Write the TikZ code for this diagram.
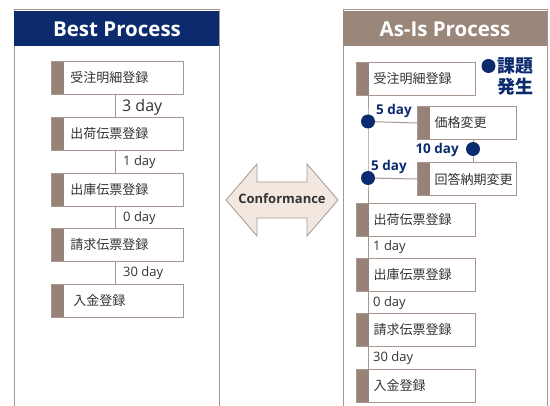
\documentclass[tikz,border=0pt]{standalone}
\usepackage{fontspec}
\setmainfont{Open Sans}
\newfontfamily\cjk{Noto Sans CJK JP}
\definecolor{navy}{HTML}{0C2A6E}
\definecolor{headbrown}{HTML}{9B867A}
\definecolor{barcol}{HTML}{978278}
\definecolor{edgecol}{HTML}{A8978E}
\definecolor{txtcol}{HTML}{333333}
\definecolor{arrowfill}{HTML}{F3E8E0}
\tikzset{
  panel/.style={draw=edgecol, line width=1pt},
  headtext/.style={text=white, font=\fontsize{20.5}{24}\selectfont\bfseries},
  procbox/.style={draw=edgecol, fill=white, line width=1pt, anchor=north west,
    minimum height=33pt, inner xsep=0pt, inner ysep=0pt, align=left, text=txtcol,
    font=\cjk\fontsize{13}{15}\selectfont,
    path picture={\fill[barcol] (path picture bounding box.north west) rectangle ([xshift=12pt]path picture bounding box.south west);}},
  conn/.style={draw=edgecol, line width=1pt},
  daylab/.style={anchor=west, text=txtcol, inner sep=0pt, font=\fontsize{13}{15}\selectfont},
  bluelab/.style={text=navy, inner sep=0pt, font=\fontsize{13.5}{16}\selectfont\bfseries},
  navydot/.style={fill=navy},
}
\begin{document}
\begin{tikzpicture}[x=1pt,y=-1pt]
\useasboundingbox (0,0) rectangle (550,406);
% ---------- left panel ----------
\draw[panel] (14,10) rectangle (219,412);
\fill[navy] (14,11) rectangle (219,46);
\node[headtext] (lhead) at (117,29) {Best Process};
\node[procbox, text width=132pt] (l1) at (51,61) {\hspace*{19pt}受注明細登録};
\node[procbox, text width=132pt] (l2) at (51,117) {\hspace*{19pt}出荷伝票登録};
\node[procbox, text width=132pt] (l3) at (51,173) {\hspace*{19pt}出庫伝票登録};
\node[procbox, text width=132pt] (l4) at (51,228) {\hspace*{19pt}請求伝票登録};
\node[procbox, text width=132pt] (l5) at (51,284) {\hspace*{22pt}入金登録};
\draw[conn] ([xshift=-2pt]l1.south) -- ([xshift=-2pt]l2.north);
\draw[conn] ([xshift=-2pt]l2.south) -- ([xshift=-2pt]l3.north);
\draw[conn] ([xshift=-2pt]l3.south) -- ([xshift=-2pt]l4.north);
\draw[conn] ([xshift=-2pt]l4.south) -- ([xshift=-2pt]l5.north);
\node[daylab, font=\fontsize{16}{18}\selectfont] (t1) at (122,107) {3 day};
\node[daylab] (t2) at (123,162) {1 day};
\node[daylab] (t3) at (123,218) {0 day};
\node[daylab] (t4) at (123,273) {30 day};
% ---------- conformance arrow ----------
\draw[draw=edgecol, fill=arrowfill, line width=0.8pt]
  (226,200) -- (257,164) -- (257,182) -- (307,182) -- (307,164) -- (338,200)
  -- (307,236) -- (307,218) -- (257,218) -- (257,236) -- cycle;
\node[text=txtcol, font=\fontsize{13}{15}\selectfont\bfseries] (conf) at (282,199) {Conformance};
% ---------- right panel ----------
\draw[panel] (343,10) rectangle (547,412);
\fill[headbrown] (343,11) rectangle (547,46);
\node[headtext] (rhead) at (445,29) {As-Is Process};
\node[procbox, text width=119pt] (r1) at (356,62) {\hspace*{17pt}受注明細登録};
\node[procbox, text width=99pt] (ra) at (417,106) {\hspace*{17pt}価格変更};
\node[procbox, text width=99pt] (rb) at (417,162) {\hspace*{17pt}回答納期変更};
\node[procbox, text width=119pt] (r2) at (356,203) {\hspace*{17pt}出荷伝票登録};
\node[procbox, text width=119pt] (r3) at (356,258) {\hspace*{17pt}出庫伝票登録};
\node[procbox, text width=119pt] (r4) at (356,313) {\hspace*{17pt}請求伝票登録};
\node[procbox, text width=119pt] (r5) at (356,369) {\hspace*{17pt}入金登録};
% connectors
\coordinate (d1) at (368,121.5);
\coordinate (d2) at (368,178);
\coordinate (d3) at (473,149);
\coordinate (d4) at (488.5,66);
\draw[conn] ([xshift=12pt]r1.south west) -- (d1) -- (d2) -- ([xshift=12pt]r2.north west);
\draw[conn] ([xshift=12pt]r2.south west) -- ([xshift=12pt]r3.north west);
\draw[conn] ([xshift=12pt]r3.south west) -- ([xshift=12pt]r4.north west);
\draw[conn] ([xshift=12pt]r4.south west) -- ([xshift=12pt]r5.north west);
\draw[conn] (d1) -- (ra.west);
\draw[conn] (d2) -- (rb.west);
\draw[conn] ([xshift=56pt]ra.south west) -- ([xshift=56pt]rb.north west);
\fill[navydot] (d1) circle[radius=7pt];
\fill[navydot] (d2) circle[radius=7pt];
\fill[navydot] (d3) circle[radius=7pt];
\fill[navydot] (d4) circle[radius=7pt];
\node[bluelab, anchor=west] (f1) at (376,111) {5 day};
\node[bluelab, anchor=east] (f2) at (459,150) {10 day};
\node[bluelab, anchor=west] (f3) at (371,167) {5 day};
\node[text=navy, inner sep=0pt, align=right, anchor=east,
  font=\cjk\fontsize{18}{21}\selectfont\bfseries] (issue) at (534,76.5) {課題\\発生};
\node[daylab] (s1) at (373,247) {1 day};
\node[daylab] (s2) at (373,303) {0 day};
\node[daylab] (s3) at (373,358) {30 day};
\end{tikzpicture}
\end{document}
